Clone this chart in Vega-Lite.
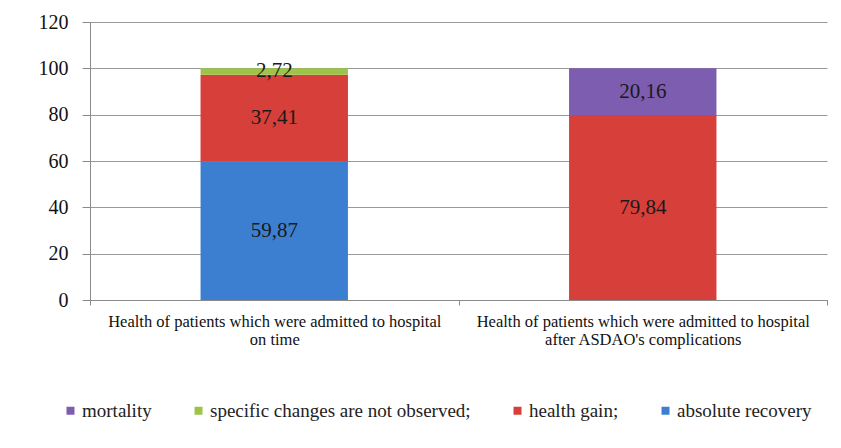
{
  "$schema": "https://vega.github.io/schema/vega-lite/v6.json",
  "width": 737,
  "height": 278,
  "autosize": {"type": "none"},
  "padding": {"left": 90, "top": 22, "right": 14, "bottom": 148},
  "background": "white",
  "data": {
    "values": [
      {"group": "Health of patients which were admitted to hospital\non time", "outcome": "absolute recovery", "ord": 1, "value": 59.87, "label": "59,87"},
      {"group": "Health of patients which were admitted to hospital\non time", "outcome": "health gain;", "ord": 2, "value": 37.41, "label": "37,41"},
      {"group": "Health of patients which were admitted to hospital\non time", "outcome": "specific changes are not observed;", "ord": 3, "value": 2.72, "label": "2,72"},
      {"group": "Health of patients which were admitted to hospital\non time", "outcome": "mortality", "ord": 4, "value": 0, "label": ""},
      {"group": "Health of patients which were admitted to hospital\nafter ASDAO's complications", "outcome": "absolute recovery", "ord": 1, "value": 0, "label": ""},
      {"group": "Health of patients which were admitted to hospital\nafter ASDAO's complications", "outcome": "health gain;", "ord": 2, "value": 79.84, "label": "79,84"},
      {"group": "Health of patients which were admitted to hospital\nafter ASDAO's complications", "outcome": "specific changes are not observed;", "ord": 3, "value": 0, "label": ""},
      {"group": "Health of patients which were admitted to hospital\nafter ASDAO's complications", "outcome": "mortality", "ord": 4, "value": 20.16, "label": "20,16"}
    ]
  },
  "transform": [
    {"stack": "value", "groupby": ["group"], "sort": [{"field": "ord", "order": "ascending"}], "as": ["v0", "v1"]},
    {"calculate": "(datum.v0 + datum.v1) / 2", "as": "mid"}
  ],
  "encoding": {
    "x": {
      "field": "group",
      "type": "nominal",
      "sort": null,
      "scale": {"paddingInner": 0, "paddingOuter": 0},
      "axis": {
        "title": null,
        "labelAngle": 0,
        "labelExpr": "split(datum.label, '\\n')",
        "labelFont": "Liberation Serif, serif",
        "labelFontSize": 16.5,
        "labelColor": "#111",
        "labelLineHeight": 18,
        "labelPadding": 8,
        "labelLimit": 400,
        "tickBand": "extent",
        "tickColor": "#8a8a8a",
        "tickSize": 5,
        "domainColor": "#8a8a8a",
        "grid": false
      }
    }
  },
  "layer": [
    {
      "mark": {"type": "bar", "width": {"band": 0.4}},
      "encoding": {
        "y": {
          "field": "v0",
          "type": "quantitative",
          "scale": {"domain": [0, 120], "nice": false},
          "axis": {
            "title": null,
            "values": [0, 20, 40, 60, 80, 100, 120],
            "labelFont": "Liberation Serif, serif",
            "labelFontSize": 20,
            "labelColor": "#111",
            "labelPadding": 14,
            "tickSize": 8,
            "tickColor": "#8a8a8a",
            "domainColor": "#8a8a8a",
            "gridColor": "#999999",
            "grid": true
          }
        },
        "y2": {"field": "v1"},
        "color": {
          "field": "outcome",
          "type": "nominal",
          "scale": {
            "domain": ["mortality", "specific changes are not observed;", "health gain;", "absolute recovery"],
            "range": ["#7d5db0", "#9dc448", "#d63f3a", "#3c7fd0"]
          },
          "legend": {
            "title": null,
            "orient": "none",
            "direction": "horizontal",
            "legendX": -29,
            "legendY": 379,
            "symbolType": "square",
            "symbolSize": 64,
            "symbolStrokeWidth": 0,
            "labelFont": "Liberation Serif, serif",
            "labelFontSize": 19,
            "labelColor": "#222",
            "labelOffset": 2,
            "columnPadding": 37,
            "labelLimit": 400
          }
        }
      }
    },
    {
      "transform": [{"filter": "datum.value > 0"}],
      "mark": {"type": "text", "font": "Liberation Serif, serif", "fontSize": 21, "color": "#1a1a1a", "baseline": "middle", "align": "center"},
      "encoding": {
        "y": {"field": "mid", "type": "quantitative"},
        "text": {"field": "label", "type": "nominal"}
      }
    }
  ],
  "config": {
    "font": "Liberation Serif, serif",
    "view": {"stroke": null},
    "axis": {"gridWidth": 1}
  }
}
